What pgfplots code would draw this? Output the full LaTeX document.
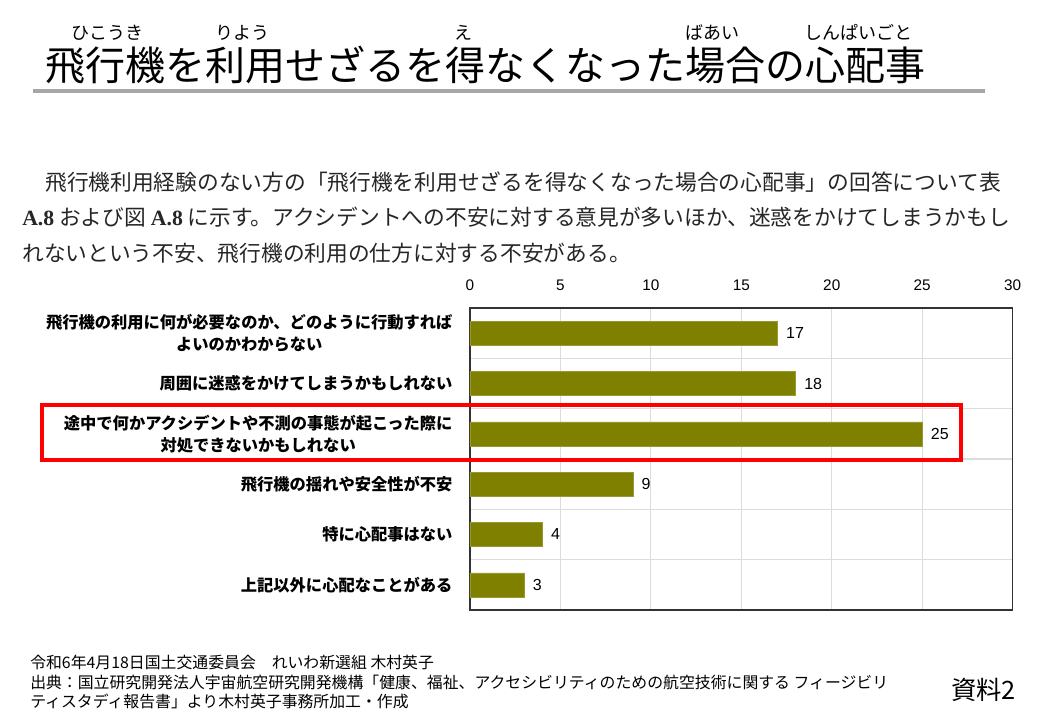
\documentclass[border=0pt]{standalone}
\usepackage{fontspec}
\usepackage{pgfplots}
\pgfplotsset{compat=1.18}
\setmainfont{Liberation Sans}
\newfontfamily\jp{Noto Sans CJK JP}
\newfontfamily\tnr{Liberation Serif}
\definecolor{barolive}{RGB}{128,128,0}
\definecolor{gridgray}{RGB}{220,220,220}
\definecolor{rulegray}{RGB}{166,166,166}
\definecolor{hlred}{RGB}{255,0,0}

\begin{document}
\begin{tikzpicture}[x=0.75pt,y=-0.75pt]
% page frame: 1040 x 720 px
\path[use as bounding box, fill=white] (0,0) rectangle (1040,720);
\coordinate (axnw) at (470,308);

% title with ruby
\node[anchor=base west, inner sep=0pt, font=\jp\fontsize{30}{30}\selectfont] at (45,81)
  {飛行機を利用せざるを得なくなった場合の心配事};
\begin{scope}[every node/.style={anchor=base, inner sep=0pt, font=\jp\fontsize{13.5}{14}\selectfont}]
  \node at (107,40) {ひこうき};
  \node at (242,40) {りよう};
  \node at (463,40) {え};
  \node at (712,40) {ばあい};
  \node at (858,40) {しんぱいごと};
\end{scope}
\draw[rulegray, line width=3pt] (33,91) -- (985,91);

% lead paragraph
\begin{scope}[every node/.style={anchor=base west, inner sep=0pt, text=black!85, font=\jp\fontsize{16.3}{18}\selectfont}]
  \node at (45,191) {飛行機利用経験のない方の「飛行機を利用せざるを得なくなった場合の心配事」の回答について表};
  \node at (22,226) {{\tnr\bfseries A.8} および図 {\tnr\bfseries A.8} に示す。アクシデントへの不安に対する意見が多いほか、迷惑をかけてしまうかもし};
  \node at (22,262) {れないという不安、飛行機の利用の仕方に対する不安がある。};
\end{scope}

\begin{axis}[
    at={(axnw)}, anchor=north west,
    scale only axis,
    width=407pt, height=226.5pt,
    xbar,
    bar width=18pt,
    xmin=0, xmax=30,
    ymin=-0.5, ymax=5.5,
    y dir=reverse,
    xtick={0,5,...,30},
    xticklabel pos=upper,
    ytick={0,...,5},
    minor ytick={0.5,1.5,...,4.5},
    yticklabels={
      {飛行機の利用に何が必要なのか、どのように行動すれば\\よいのかわからない},
      {周囲に迷惑をかけてしまうかもしれない},
      {途中で何かアクシデントや不測の事態が起こった際に\\対処できないかもしれない},
      {飛行機の揺れや安全性が不安},
      {特に心配事はない},
      {上記以外に心配なことがある}},
    major tick length=0pt, minor tick length=0pt,
    xmajorgrids, yminorgrids,
    grid style={gridgray, line width=0.9pt},
    axis line style={black!80, line width=0.8pt},
    /pgf/number format/assume math mode=true,
    xticklabel style={font=\fontsize{11.5}{13}\selectfont, inner sep=0pt, yshift=13pt},
    yticklabel style={font=\jp\bfseries\fontsize{12.2}{16.5}\selectfont, align=center, inner sep=0pt, xshift=-13pt},
    nodes near coords,
    every node near coord/.append style={font=\fontsize{12}{13}\selectfont, black, xshift=3pt},
  ]
  \addplot[fill=barolive, draw=barolive!80!white] coordinates {
    (17,0) (18,1) (25,2) (9,3) (4,4) (3,5)
  };
\end{axis}

% highlight of the main concern
\draw[hlred, line width=2.3pt] (42,405) rectangle (961,460);

% footer
\begin{scope}[every node/.style={anchor=base west, inner sep=0pt, font=\jp\fontsize{11.9}{12}\selectfont}]
  \node at (30,668) {令和6年4月18日国土交通委員会　れいわ新選組 木村英子};
  \node at (30,688) {出典：国立研究開発法人宇宙航空研究開発機構「健康、福祉、アクセシビリティのための航空技術に関する フィージビリ};
  \node at (30,707) {ティスタディ報告書」より木村英子事務所加工・作成};
\end{scope}
\node[anchor=east, inner sep=0pt, font=\jp\fontsize{19}{20}\selectfont] at (1016,690) {資料2};
\end{tikzpicture}
\end{document}
